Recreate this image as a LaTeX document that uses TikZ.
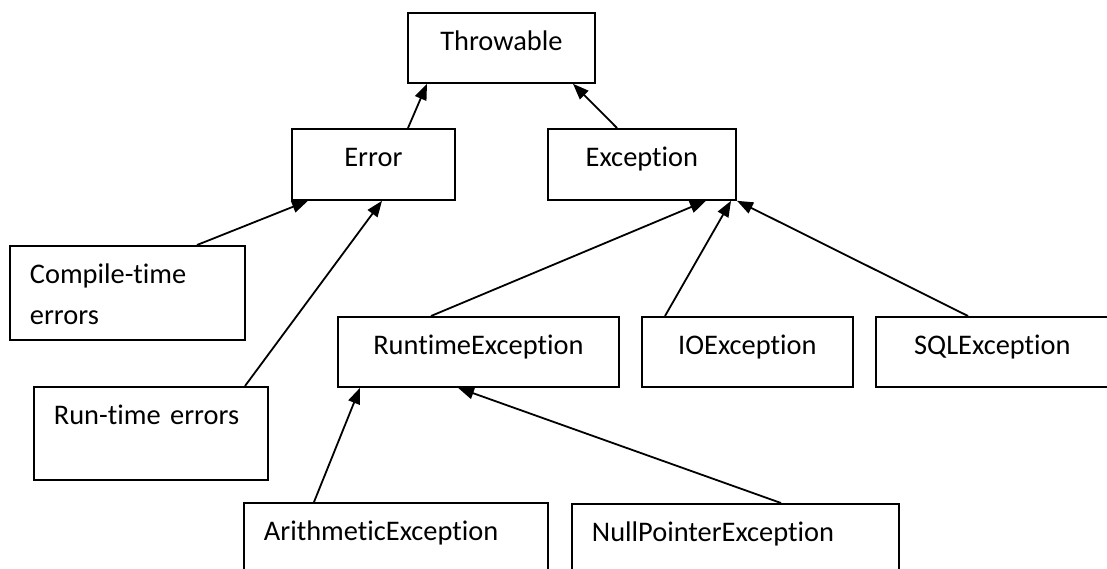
\documentclass[tikz,border=0pt]{standalone}
\usepackage{fontspec}
\setmainfont[Ligatures={NoCommon,NoRare,NoContextual}, RawFeature={-liga;-clig;-dlig}]{Carlito}
\usetikzlibrary{arrows.meta}
\begin{document}
\begin{tikzpicture}[x=1pt, y=-1pt,
    font=\fontsize{28.4pt}{41pt}\selectfont,
    classbox/.style ={rectangle, draw, line width=1.8pt, inner sep=0pt, anchor=north west, text height=38pt},
    leftbox/.style ={classbox, inner xsep=20pt, align=left},
    extends/.style ={line width=1.8pt, -{Triangle[length=16pt, width=12pt]}}]
   \useasboundingbox (0,0) rectangle (1107,568);
   \clip (0,0) rectangle (1107,568);

   \node[classbox, minimum width=187pt, text depth=32pt] (throwable) at (407,12) {Throwable};
   \node[classbox, minimum width=163pt, text depth=33pt] (error) at (291,128) {Error};
   \node[classbox, minimum width=188pt, text depth=33pt] (exception) at (547,128) {Exception};
   \node[leftbox, text width=195pt, text depth=56pt] (compile) at (9,245) {Compile-time\\errors};
   \node[leftbox, text width=194pt, text depth=55pt] (runerrors) at (33,386) {Run-time errors};
   \node[classbox, minimum width=281pt, text depth=32pt] (runtime) at (337,316) {RuntimeException};
   \node[classbox, minimum width=211pt, text depth=32pt] (io) at (641,316) {IOException};
   \node[classbox, minimum width=233pt, text depth=32pt] (sql) at (875,316) {SQLException};
   \node[leftbox, text width=264pt, text depth=70pt] (arith) at (243,502) {ArithmeticException};
   \node[leftbox, text width=287pt, text depth=70pt] (nullptr) at (571,503) {NullPointerException};

   \draw[extends] ([xshift=117pt]error.north west) -- ([xshift=20pt]throwable.south west);
   \draw[extends] ([xshift=70pt]exception.north west) -- ([xshift=166pt]throwable.south west);

   \draw[extends] ([xshift=188pt]compile.north west) -- ([xshift=17pt]error.south west);
   \draw[extends] ([xshift=212pt]runerrors.north west) -- ([xshift=91pt]error.south west);

   \draw[extends] ([xshift=94pt]runtime.north west) -- ([xshift=159pt]exception.south west);
   \draw[extends] ([xshift=24pt]io.north west) -- ([xshift=184pt]exception.south west);
   \draw[extends] ([xshift=93pt]sql.north west) -- ([xshift=190pt]exception.south west);

   \draw[extends] ([xshift=71pt]arith.north west) -- ([xshift=23pt]runtime.south west);
   \draw[extends] ([xshift=210pt]nullptr.north west) -- ([xshift=121pt]runtime.south west);
 \end{tikzpicture}
\end{document}
